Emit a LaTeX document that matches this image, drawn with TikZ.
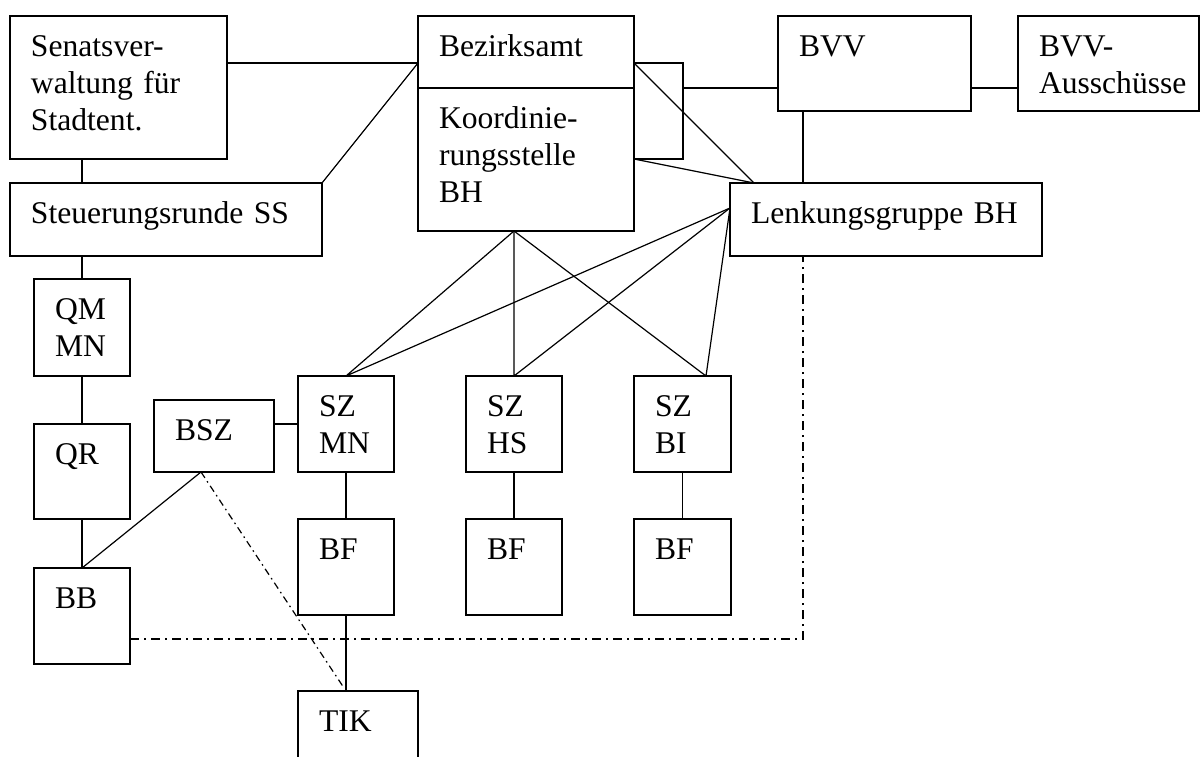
\documentclass[tikz,border=0pt]{standalone}
\usepackage{fontspec}
\setmainfont{Liberation Serif}
\usetikzlibrary{calc}
\hyphenpenalty=10000
\tikzset{unit/.style 2 args={draw, anchor=north west, outer sep=0pt, inner xsep=10.5pt, inner ysep=0pt, align=left, text width=#1*0.5pt-21pt, text height=20pt, text depth=#2*0.5pt-20pt}}
\tikzset{ddline/.style={dash pattern=on 4.5pt off 2.5pt on 1pt off 2.5pt}}
\tikzset{ddfine/.style={dash pattern=on 3.5pt off 2pt on 0.8pt off 2pt}}

\begin{document}
\begin{tikzpicture}[x=0.5pt,y=-0.5pt,line width=0.6pt]
\tikzstyle{every node}+=[font=\fontsize{15.8pt}{18.5pt}\selectfont]
\useasboundingbox (0,0) rectangle (1201,756);

\node [unit={217}{143}] (senat) at (10,16) {Senatsver-\\waltung für\\Stadtent.};
\node [unit={312}{73}] (steuer) at (10,183) {Steuerungsrunde SS};
\node [unit={216}{72}] (bezirk) at (418,16) {Bezirksamt};
\node [unit={216}{143}] (koord) at (418,88) {Koordinie-\\rungsstelle\\BH};
\node [unit={193}{95}] (bvv) at (778,16) {BVV};
\node [unit={181}{95}] (ausschuss) at (1018,16) {BVV-\\Ausschüsse};
\node [unit={312}{73}] (lenk) at (730,183) {Lenkungsgruppe BH};
\node [unit={96}{97}] (qm) at (34,279) {QM\\MN};
\node [unit={96}{95}] (qr) at (34,424) {QR};
\node [unit={96}{96}] (bb) at (34,568) {BB};
\node [unit={120}{72}] (bsz) at (154,400) {BSZ};
\node [unit={96}{96}] (szmn) at (298,376) {SZ\\MN};
\node [unit={96}{96}] (szhs) at (466,376) {SZ\\HS};
\node [unit={97}{96}] (szbi) at (634,376) {SZ\\BI};
\node [unit={96}{96}] (bfmn) at (298,519) {BF};
\node [unit={96}{96}] (bfhs) at (466,519) {BF};
\node [unit={97}{96}] (bfbi) at (634,519) {BF};
\node [unit={120}{160}] (tik) at (298,691) {TIK};

\coordinate (bzL) at ($(bezirk.north west)+(0,47)$);
\coordinate (bzR) at ($(bezirk.north east)+(0,47)$);
\coordinate (kdR) at ($(koord.south east)+(0,-72)$);
\coordinate (brk) at ($(bzR)+(49,0)$);
\coordinate (lkTop) at ($(lenk.north west)+(24,0)$);
\coordinate (lkL) at ($(lenk.north west)+(0,25)$);
\coordinate (lkFoot) at ($(lenk.south west)+(73,0)$);
\coordinate (kdF) at (szhs.north |- koord.south);
\coordinate (biTop) at ($(szbi.north east)+(-25,0)$);
\coordinate (bszF) at ($(bsz.south west)+(47,0)$);

\draw (senat.east |- bzL) -- (bzL);
\draw (steuer.north east) -- (bzL);
\draw (qm.north |- senat.south) -- (qm.north |- steuer.north);
\draw (qm.north |- steuer.south) -- (qm.north);
\draw (qm.south) -- (qr.north);
\draw (qr.south) -- (bb.north);
\draw (bzR) -- (brk) -- (brk |- kdR) -- (kdR);
\draw (brk |- bezirk.south) -- (bvv.west |- bezirk.south);
\draw (bvv.east |- bezirk.south) -- (ausschuss.west |- bezirk.south);
\draw (lkFoot |- bvv.south) -- (lkFoot |- lenk.north);
\draw (bzR) -- (lkTop);
\draw (kdR) -- (lkTop);
\foreach \t in {szmn.north,szhs.north,biTop}
  \draw (kdF) -- (\t) (lkL) -- (\t);
\draw (szmn.west) -- (szmn.west -| bsz.east);
\draw (bszF) -- (bb.north);
\draw ($(bb.north east)+(0,24)$) -- ($(bb.north east)+(0,24)$ -| bfmn.west);
\draw (szmn.south) -- (bfmn.north);
\draw (szhs.south) -- (bfhs.north);
\draw (szbi.south) -- (bfbi.north);
\draw (bfmn.south) -- (bfmn.south |- tik.north);
\draw [ddfine, shorten >=2pt] (bszF) -- (bfmn.south |- tik.north);
\draw [ddline] ($(bb.north east)+(0,71)$) -| (lkFoot);
\end{tikzpicture}
\end{document}
